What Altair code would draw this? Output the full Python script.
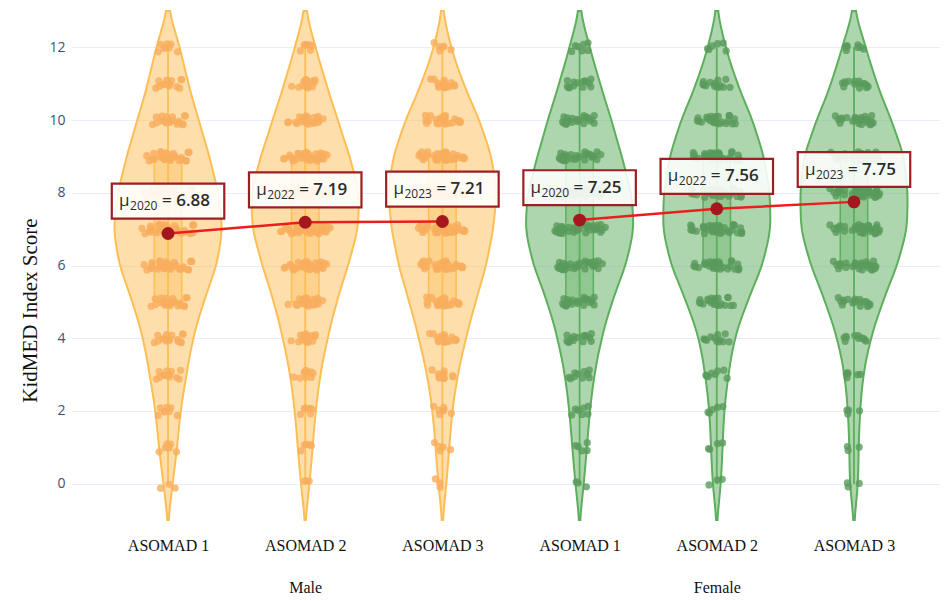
import altair as alt
import pandas as pd

# ---- data ----
groups = ["M1", "M2", "M3", "F1", "F2", "F3"]
sexes = ["Male", "Male", "Male", "Female", "Female", "Female"]
positions = [0, 1, 2, 3, 4, 5]
asomad_labels = ["ASOMAD 1", "ASOMAD 2", "ASOMAD 3", "ASOMAD 1", "ASOMAD 2", "ASOMAD 3"]
sex_labels = {1: "Male", 4: "Female"}
scores = list(range(13))  # KidMED score 0..12
counts_m1 = [3, 6, 8, 12, 16, 23, 32, 36, 33, 27, 20, 13, 8]
counts_m2 = [3, 5, 7, 10, 15, 21, 29, 36, 37, 30, 22, 14, 7]
counts_m3 = [3, 5, 7, 11, 17, 24, 32, 37, 40, 36, 27, 15, 6]
counts_f1 = [3, 5, 7, 10, 15, 22, 32, 38, 36, 29, 22, 14, 7]
counts_f2 = [3, 4, 5, 8, 12, 21, 32, 38, 37, 33, 25, 14, 6]
counts_f3 = [3, 3, 4, 6, 11, 19, 29, 36, 36, 34, 25, 15, 8]
means = [6.88, 7.19, 7.21, 7.25, 7.56, 7.75]
years = [2020, 2022, 2023, 2020, 2022, 2023]
y_ticks = [0, 2, 4, 6, 8, 10, 12]

all_counts = [counts_m1, counts_m2, counts_m3, counts_f1, counts_f2, counts_f3]

# ---- tables ----
rows = []
for g, s, p, cnts in zip(groups, sexes, positions, all_counts):
    for sc, c in zip(scores, cnts):
        for _ in range(c):
            rows.append({"grp": g, "sex": s, "pos": p, "score": sc})
obs = pd.DataFrame(rows)

means_df = pd.DataFrame({
    "grp": groups, "sex": sexes, "pos": positions, "mean": means,
    "year": [str(y) for y in years],
    "val": [f"= {m:.2f}" for m in means],
})

ORANGE = "#FDBE55"
ORANGE_PT = "#F8AE5E"
GREEN = "#5DAE5D"
GREEN_PT = "#5A9B5C"

is_male = "datum.sex === 'Male'"
fill_c = alt.condition(is_male, alt.value(ORANGE), alt.value(GREEN))
pt_c = alt.condition(is_male, alt.value(ORANGE_PT), alt.value(GREEN_PT))

xscale = alt.Scale(domain=[-0.70, 5.627], nice=False, zero=False)
yscale = alt.Scale(domain=[-1, 13], nice=False, zero=False)

label_items = []
for p, lab in zip(positions, asomad_labels):
    if p in sex_labels:
        label_items.append(f"['{lab}', '{sex_labels[p]}']")
    else:
        label_items.append(f"['{lab}']")
label_expr = "[" + ", ".join(label_items) + "][datum.value]"

xaxis = alt.Axis(values=positions, labelExpr=label_expr, grid=False, ticks=False,
                 domain=False, labelFont="Liberation Serif", labelFontSize=16,
                 labelColor="#111111", labelPadding=17, labelLineHeight=42,
                 labelOverlap=False, title=None)
yaxis = alt.Axis(values=y_ticks, grid=True, gridColor="#E9EEF6", gridWidth=1,
                 ticks=False, domain=False, labelFont="Open Sans", labelFontSize=14,
                 labelColor="#3E5076", labelPadding=7,
                 title="KidMED Index Score", titleFont="Liberation Serif",
                 titleFontSize=21, titleFontWeight="normal", titleColor="#111111",
                 titleX=-42, titleY=299, titleBaseline="middle")

base = alt.Chart(obs)

violin = base.transform_density(
    "score", as_=["score", "density"], groupby=["grp", "sex", "pos"],
    bandwidth=0.6, extent=[-1, 13], steps=141,
).transform_joinaggregate(
    dmax="max(density)", groupby=["grp"]
).transform_calculate(
    xl="datum.pos - 0.39 * datum.density / datum.dmax",
    xr="datum.pos + 0.39 * datum.density / datum.dmax",
).mark_area(orient="horizontal", fillOpacity=0.5, strokeWidth=2).encode(
    y=alt.Y("score:Q", scale=yscale, axis=yaxis),
    x=alt.X("xl:Q", scale=xscale, axis=xaxis),
    x2="xr:Q",
    color=fill_c,
    stroke=fill_c,
    detail="grp:N",
)

box = base.transform_aggregate(
    q1="q1(score)", q3="q3(score)", groupby=["grp", "sex", "pos"]
).transform_calculate(
    bl="datum.pos - 0.1", br="datum.pos + 0.1"
).mark_rect(fillOpacity=0.35, strokeWidth=1.5).encode(
    x=alt.X("bl:Q", scale=xscale), x2="br:Q",
    y=alt.Y("q1:Q", scale=yscale), y2="q3:Q",
    color=fill_c, stroke=fill_c,
)

whisker = base.transform_aggregate(
    lo="min(score)", hi="max(score)", groupby=["grp", "sex", "pos"]
).mark_rule(strokeWidth=1.8).encode(
    x=alt.X("pos:Q", scale=xscale),
    y=alt.Y("lo:Q", scale=yscale), y2="hi:Q",
    color=fill_c,
)

# deterministic jitter (hash of row number) for the strip of points
u1 = "(sin(datum.rn * 12.9898 + datum.pos * 78.233) * 43758.5453)"
u2 = "(sin(datum.rn * 93.9898 + datum.pos * 67.345) * 24634.6345)"
points = base.transform_window(
    rn="row_number()", groupby=["grp", "score"]
).transform_joinaggregate(
    n="count()", groupby=["grp", "score"]
).transform_joinaggregate(
    nmax="max(n)", groupby=["grp"]
).transform_calculate(
    jx=f"datum.pos + ({u1} - floor({u1}) - 0.5) * (0.1 + 0.28 * datum.n / datum.nmax)",
    jy=f"datum.score + ({u2} - floor({u2}) - 0.5) * 0.26",
).mark_circle(size=52, opacity=0.8).encode(
    x=alt.X("jx:Q", scale=xscale),
    y=alt.Y("jy:Q", scale=yscale),
    color=pt_c,
)

mbase = alt.Chart(means_df)
mean_line = mbase.mark_line(color="#EE1D1D", strokeWidth=2.5).encode(
    x=alt.X("pos:Q", scale=xscale), y=alt.Y("mean:Q", scale=yscale),
    detail="sex:N", order="pos:Q",
)
mean_pts = mbase.mark_point(filled=True, size=165, color="#A3171D", opacity=1).encode(
    x=alt.X("pos:Q", scale=xscale), y=alt.Y("mean:Q", scale=yscale),
)
lab_box = mbase.transform_calculate(
    lx1="datum.pos - 0.41", lx2="datum.pos + 0.41",
    ly1="datum.mean + 0.41", ly2="datum.mean + 1.37",
).mark_rect(fill="white", fillOpacity=0.88, stroke="#9E1F23", strokeWidth=2.2).encode(
    x=alt.X("lx1:Q", scale=xscale), x2="lx2:Q",
    y=alt.Y("ly1:Q", scale=yscale), y2="ly2:Q",
)
lab_mu = mbase.transform_calculate(ty="datum.mean + 0.89").mark_text(
    text="μ", font="Open Sans", fontSize=17, fontWeight=500, color="#2b2b2b",
    align="left", baseline="middle", dx=-49,
).encode(x=alt.X("pos:Q", scale=xscale), y=alt.Y("ty:Q", scale=yscale))
lab_year = mbase.transform_calculate(ty="datum.mean + 0.89").mark_text(
    font="Open Sans", fontSize=12, fontWeight=500, color="#2b2b2b",
    align="left", baseline="middle", dx=-38, dy=5,
).encode(x=alt.X("pos:Q", scale=xscale), y=alt.Y("ty:Q", scale=yscale), text="year:N")
lab_val = mbase.transform_calculate(ty="datum.mean + 0.89").mark_text(
    font="Open Sans", fontSize=17, fontWeight=600, color="#2b2b2b",
    align="left", baseline="middle", dx=-6,
).encode(x=alt.X("pos:Q", scale=xscale), y=alt.Y("ty:Q", scale=yscale), text="val:N")

chart = alt.layer(
    violin, box, whisker, points, mean_line, mean_pts, lab_box, lab_mu, lab_year, lab_val
).properties(
    width=868, height=509,
    autosize=alt.AutoSizeParams(type="none"),
    padding={"left": 64, "top": 3, "right": 0, "bottom": 80},
    background="white",
).configure_view(stroke=None)

chart.save("out.html", embed_options={"renderer": "svg", "actions": False})
